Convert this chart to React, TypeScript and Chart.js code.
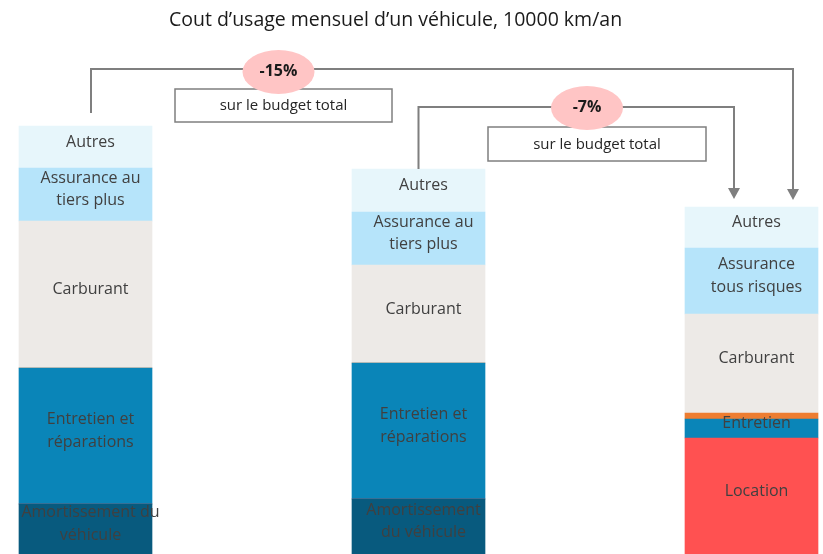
import React, { useEffect, useRef } from 'react';
import { Chart, registerables } from 'chart.js';

Chart.register(...registerables);

// ---- Data (monthly cost units, stacked bottom -> top) ----
const categories = ['Véhicule actuel', 'Véhicule optimisé', 'Location'];
const amortissement = [176, 181, 0];
const location = [0, 0, 242];
const entretien = [136, 136, 19];
const entretienAutre = [0, 0, 6];
const carburant = [147, 98, 99];
const assurance = [53, 53, 66];
const autres = [42, 43, 41];

const amortissementLabels = [['Amortissement du', 'véhicule'], ['Amortissement', 'du véhicule'], null];
const locationLabels = [null, null, ['Location']];
const entretienLabels = [['Entretien et', 'réparations'], ['Entretien et', 'réparations'], ['Entretien']];
const entretienAutreLabels = [null, null, null];
const carburantLabels = [['Carburant'], ['Carburant'], ['Carburant']];
const assuranceLabels = [['Assurance au', 'tiers plus'], ['Assurance au', 'tiers plus'], ['Assurance', 'tous risques']];
const autresLabels = [['Autres'], ['Autres'], ['Autres']];

const savingsLabels = ['-15%', '-7%'];
const savingsNote = 'sur le budget total';
const title = 'Cout d\u2019usage mensuel d\u2019un véhicule, 10000 km/an';

const FONT = '"Open Sans", "Noto Sans", sans-serif';
const GRAY = '#7f7f7f';

export default function App() {
  const ref = useRef<HTMLCanvasElement>(null);

  useEffect(() => {
    if (!ref.current) return;
    const segLabels = [
      amortissementLabels,
      locationLabels,
      entretienLabels,
      entretienAutreLabels,
      carburantLabels,
      assuranceLabels,
      autresLabels,
    ];

    const labelPlugin = {
      id: 'segLabels',
      afterDatasetsDraw(chart: any) {
        const ctx = chart.ctx;
        const area = chart.chartArea;
        ctx.save();
        ctx.font = `16px ${FONT}`;
        ctx.fillStyle = '#404040';
        ctx.textAlign = 'center';
        ctx.textBaseline = 'middle';
        chart.data.datasets.forEach((_ds: any, di: number) => {
          const meta = chart.getDatasetMeta(di);
          meta.data.forEach((bar: any, i: number) => {
            const lines = segLabels[di][i];
            if (!lines) return;
            const top = Math.max(Math.min(bar.y, bar.base), area.top);
            const bot = Math.min(Math.max(bar.y, bar.base), area.bottom);
            const cy = (top + bot) / 2 - 5;
            const lh = 22.5;
            const x = bar.x + 5;
            lines.forEach((t: string, k: number) => {
              ctx.fillText(t, x, cy + (k - (lines.length - 1) / 2) * lh);
            });
          });
        });
        ctx.restore();
      },
    };

    const annotPlugin = {
      id: 'annot',
      afterDraw(chart: any) {
        const ctx = chart.ctx;
        const topMeta = chart.getDatasetMeta(chart.data.datasets.length - 1);
        const b = topMeta.data;
        ctx.save();
        // title
        ctx.fillStyle = '#1a1a1a';
        ctx.font = `19.5px ${FONT}`;
        ctx.textAlign = 'center';
        ctx.textBaseline = 'middle';
        ctx.fillText(title, 395.5, 20);

        const arrow = (x: number, tipY: number) => {
          ctx.beginPath();
          ctx.moveTo(x - 6, tipY - 11);
          ctx.lineTo(x + 6, tipY - 11);
          ctx.lineTo(x, tipY);
          ctx.closePath();
          ctx.fillStyle = GRAY;
          ctx.fill();
        };
        const bracket = (x1: number, y1: number, yLine: number, x2: number, tip: number) => {
          ctx.strokeStyle = GRAY;
          ctx.lineWidth = 2;
          ctx.beginPath();
          ctx.moveTo(x1, y1);
          ctx.lineTo(x1, yLine);
          ctx.lineTo(x2, yLine);
          ctx.lineTo(x2, tip - 8);
          ctx.stroke();
          arrow(x2, tip);
        };
        bracket(b[0].x + 5.5, b[0].y - 13, 69, b[2].x + 41.5, b[2].y - 7);
        bracket(b[1].x, b[1].y, 107, b[2].x - 17.5, b[2].y - 8);

        const box = (x: number, y: number, w: number, h: number) => {
          ctx.fillStyle = '#ffffff';
          ctx.fillRect(x, y, w, h);
          ctx.strokeStyle = GRAY;
          ctx.lineWidth = 1.5;
          ctx.strokeRect(x, y, w, h);
          ctx.fillStyle = '#262626';
          ctx.font = `15px ${FONT}`;
          ctx.fillText(savingsNote, x + w / 2, y + h / 2 + 0.5);
        };
        box(175, 89, 217, 33);
        box(488, 127, 218, 34);

        const bubble = (cx: number, cy: number, text: string) => {
          ctx.beginPath();
          ctx.ellipse(cx, cy, 36, 22, 0, 0, Math.PI * 2);
          ctx.fillStyle = '#ffc5c5';
          ctx.fill();
          ctx.fillStyle = '#1a1a1a';
          ctx.font = `bold 16px ${FONT}`;
          ctx.fillText(text, cx, cy - 1);
        };
        bubble(278.5, 72, savingsLabels[0]);
        bubble(587, 108, savingsLabels[1]);
        ctx.restore();
      },
    };

    const mk = (label: string, data: number[], color: string) => ({
      label,
      data,
      backgroundColor: color,
      borderWidth: 0,
      barThickness: 133,
      clip: false as const,
    });

    const chart = new Chart(ref.current, {
      type: 'bar',
      data: {
        labels: categories,
        datasets: [
          mk('Amortissement du véhicule', amortissement, '#085a7e'),
          mk('Location', location, '#ff5151'),
          mk('Entretien et réparations', entretien, '#0a85b8'),
          mk('Entretien (autre)', entretienAutre, '#ed7d31'),
          mk('Carburant', carburant, '#edeae7'),
          mk('Assurance', assurance, '#b6e4fa'),
          mk('Autres', autres, '#e7f6fb'),
        ],
      },
      options: {
        animation: false,
        responsive: false,
        devicePixelRatio: 1,
        layout: { padding: { left: 85.5, right: 71.5, top: 0, bottom: 0 } },
        plugins: {
          legend: { display: false },
          title: { display: false },
          tooltip: { enabled: false },
        },
        scales: {
          x: { display: false, stacked: true, offset: false, grid: { offset: false } },
          y: { display: false, stacked: true, min: 126, max: 680 },
        },
      },
      plugins: [labelPlugin, annotPlugin],
    });
    return () => chart.destroy();
  }, []);

  return (
    <canvas
      ref={ref}
      width={823}
      height={554}
      style={{ position: 'fixed', left: 0, top: 0, width: 823, height: 554, background: '#ffffff' }}
    />
  );
}
